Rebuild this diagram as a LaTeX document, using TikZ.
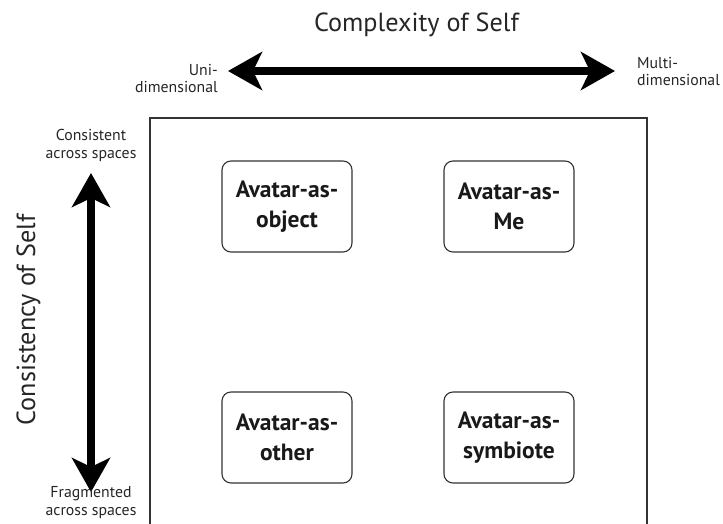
\documentclass[tikz,border=0pt]{standalone}
\usepackage{fontspec}
\setmainfont{PT Sans}
\usetikzlibrary{arrows.meta}
\begin{document}
\begin{tikzpicture}[x=1pt,y=-1pt,
  quad/.style={draw=black!80, line width=1.1pt, rounded corners=9pt,
    minimum width=130pt, minimum height=91pt, align=center, inner sep=0pt,
    text=black!90, font=\fontsize{23.5}{30}\selectfont\bfseries},
  axis/.style={line width=8pt,
    {Stealth[length=34pt,width=38pt,inset=9pt]}-{Stealth[length=34pt,width=38pt,inset=9pt]}},
  small/.style={font=\fontsize{15.8}{17.5}\selectfont, inner sep=0pt, text=black!85},
  big/.style={font=\fontsize{26.2}{30}\selectfont, inner sep=0pt, text=black!85},
  frame/.style={draw=black!80, line width=1.1pt}]
\useasboundingbox (0,0) rectangle (723,524);
\fill[white] (0,0) rectangle (723,524);

% outer frame, open at the bottom
\draw[frame] (150,524) -- (150,118) -- (647,118) -- (647,524);

% the four quadrants
\node[quad] (obj) at (287,206.5) {Avatar-as-\\object};
\node[quad] (me)  at (509,206.5) {Avatar-as-\\Me};
\node[quad] (oth) at (287,437.5) {Avatar-as-\\other};
\node[quad] (sym) at (509,437.5) {Avatar-as-\\symbiote};

% horizontal axis (base anchors sit on the last line)
\node[big, anchor=base] (htitle) at (416.5,32) {Complexity of Self};
\coordinate (hl) at (228,71);
\coordinate (hr) at (615,71);
\draw[axis] (hl) -- (hr);
\node[small, align=right, anchor=base east] (uni) at (218,93) {Uni-\\dimensional};
\node[small, align=left, anchor=base west] (multi) at (637,86) {Multi-\\dimensional};

% vertical axis
\node[big, rotate=90, anchor=base] (vtitle) at (35,320) {Consistency of Self};
\coordinate (vt) at (91,173);
\coordinate (vb) at (91,492);
\draw[axis] (vt) -- (vb);
\node[small, align=center, anchor=base] (cons) at (91,158) {Consistent\\across spaces};
\node[small, align=center, anchor=base] (frag) at (91,515) {Fragmented\\across spaces};
\end{tikzpicture}
\end{document}
